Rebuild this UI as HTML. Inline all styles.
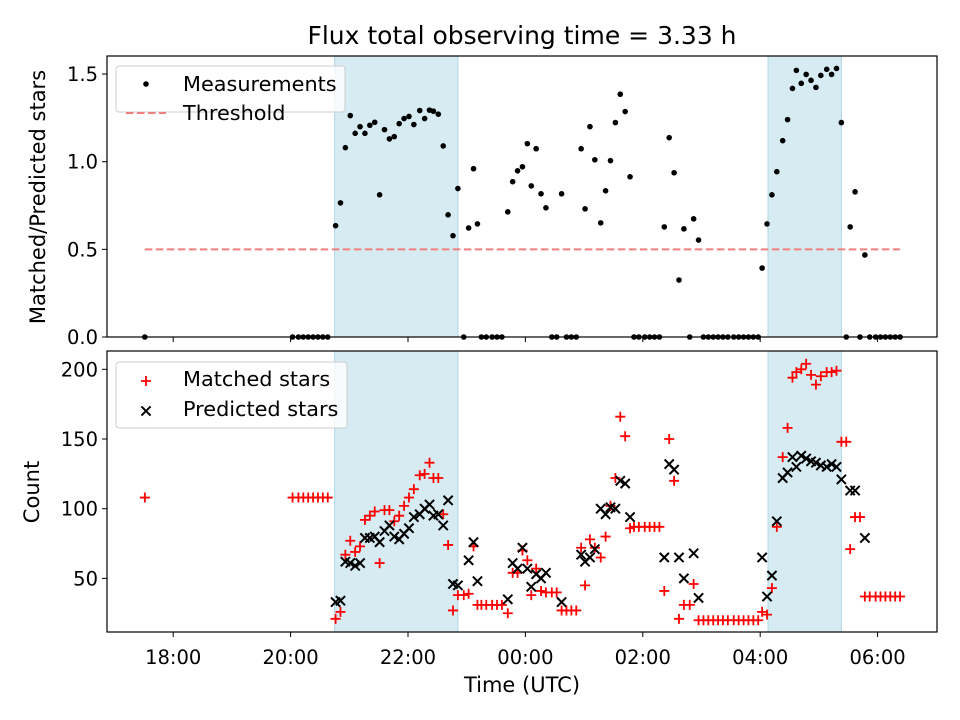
<!DOCTYPE html>
<html><head><meta charset="utf-8"><style>
html,body{margin:0;padding:0;background:#fff;}
svg{display:block;font-family:"DejaVu Sans","Liberation Sans",sans-serif;}
</style></head><body>
<svg id="fig" width="960" height="720" viewBox="0 0 960 720" xmlns="http://www.w3.org/2000/svg">
<rect width="960" height="720" fill="#fff"/>
<text x="522" y="44" font-size="25" text-anchor="middle" fill="#000">Flux total observing time = 3.33 h</text>
<g id="topPanel"></g>
<g id="botPanel"></g>
<text x="0" y="0" font-size="21" text-anchor="middle" transform="translate(45,197) rotate(-90)" fill="#000">Matched/Predicted stars</text>
<text x="0" y="0" font-size="21" text-anchor="middle" transform="translate(39,492) rotate(-90)" fill="#000">Count</text>
<text x="522" y="692" font-size="21" text-anchor="middle" fill="#000">Time (UTC)</text>
<g>
<rect x="116" y="66" width="229" height="46" rx="3" fill="#fff" fill-opacity="0.8" stroke="#ccc" stroke-width="1"/>
<circle cx="146" cy="84" r="2.8" fill="#000"/>
<text x="183" y="91" font-size="20.8" fill="#000">Measurements</text>
<line x1="126" x2="166" y1="113" y2="113" stroke="#f08080" stroke-width="2" stroke-dasharray="7.5,3.5"/>
<text x="183" y="120" font-size="20.8" fill="#000">Threshold</text>
</g>
<g>
<rect x="116" y="362" width="231" height="66" rx="3" fill="#fff" fill-opacity="0.8" stroke="#ccc" stroke-width="1"/>
<path d="M141,381H151M146,376V386" stroke="#ff0000" stroke-width="1.8"/>
<text x="183" y="386" font-size="20.8" fill="#000">Matched stars</text>
<path d="M141.4,406.4L150.6,415.6M141.4,415.6L150.6,406.4" stroke="#000" stroke-width="2"/>
<text x="183" y="416" font-size="20.8" fill="#000">Predicted stars</text>
</g>
</svg>
<script>
// minutes since 18:00 UTC
const times = [-29,122,128,133,138,143,148,153,158,166,171,176,181,186,191,196,201,206,211,216,221,226,231,236,241,246,252,257,262,266,271,276,281,286,291,297,302,307,311,315,320,326,331,336,342,347,352,357,362,366,371,376,381,387,392,397,402,407,412,417,421,426,431,437,442,447,452,457,462,467,471,476,482,487,492,497,502,507,512,517,522,528,532,537,542,547,552,557,562,567,573,578,583,588,593,598,602,607,612,617,623,628,633,637,642,647,652,657,662,668,673,678,683,688,692,697,702,707,712,718,723,728,733,738,743];
const ratio = [0,0,0,0,0,0,0,0,0,0.635,0.765,1.08,1.263,1.162,1.20,1.162,1.208,1.225,0.811,1.183,1.13,1.143,1.217,1.246,1.258,1.212,1.292,1.246,1.294,1.288,1.271,1.09,0.697,0.578,0.847,0,0.622,0.96,0.645,0,0,0,0,0,0.714,0.886,0.948,0.971,1.103,0.862,1.074,0.817,0.737,0,0,0.817,0,0,0,1.074,0.731,1.2,1.011,0.651,0.834,1.006,1.223,1.385,1.286,0.914,0,0,0,0,0,0,0.628,1.137,0.937,0.325,0.617,0,0.674,0.553,0,0,0,0,0,0,0,0,0,0,0,0,0.393,0.645,0.811,0.943,1.12,1.24,1.418,1.521,1.447,1.498,1.464,1.424,1.492,1.527,1.498,1.532,1.223,0,0.628,0.828,0,0.468,0,0,0,0,0,0,0];
const matched = [108,108,108,108,108,108,108,108,108,21,26,67,77,69,73,92,95,98,61,99,99,91,95,102,108,114,124,125,133,122,122,96,74,27,38,38,39,73,31,31,31,31,31,31,25,54,54,70,63,38,57,41,40,40,40,27,27,27,27,72,45,78,72,65,80,102,122,166,152,86,87,87,87,87,87,87,41,150,120,21,31,31,46,20,20,20,20,20,20,20,20,20,20,20,20,20,26,24,43,87,137,158,194,198,200,204,196,189,195,198,198,199,148,148,71,94,94,37,37,37,37,37,37,37,37];
const predicted = [null,null,null,null,null,null,null,null,null,33,34,62,61,59,61,79,79,80,76,84,88,80,78,82,86,94,96,100,103,95,96,88,106,46,45,null,63,76,48,null,null,null,null,null,35,61,57,72,57,44,53,50,54,null,null,33,null,null,null,67,62,65,71,100,96,101,100,120,118,94,null,null,null,null,null,null,65,132,128,65,50,null,68,36,null,null,null,null,null,null,null,null,null,null,null,null,65,37,52,91,122,126,137,130,138,136,134,133,131,130,132,130,121,null,113,113,null,79,null,null,null,null,null,null,null];
const threshold = 0.5;
const shadeSpans = [[165,291],[608,683]];
const xTickLabels = ["18:00","20:00","22:00","00:00","02:00","04:00","06:00"];
const xTickMinutes = [0,120,240,360,480,600,720];
const topTicks = [0.0,0.5,1.0,1.5];
const botTicks = [50,100,150,200];

const NS="http://www.w3.org/2000/svg";
const L=107,R=937;
const X=m=>173.2+m*0.9783;
const T0=56,T1=337, yT=v=>337-v*175.3;
const B0=351,B1=632, yB=v=>369.3-(v-200)*1.394;
function mk(tag,attrs,parent){const e=document.createElementNS(NS,tag);for(const k in attrs)e.setAttribute(k,attrs[k]);parent.appendChild(e);return e;}
const topG=document.getElementById('topPanel'), botG=document.getElementById('botPanel');

function panel(g,y0,y1){
  shadeSpans.forEach(s=>{
    const r=mk('rect',{x:X(s[0]),y:y0,width:X(s[1])-X(s[0]),height:y1-y0,fill:'#add8e6','fill-opacity':0.5,stroke:'#add8e6','stroke-width':1},g);
    
    
  });
}
panel(topG,T0,T1); panel(botG,B0,B1);

const th=mk('line',{x1:X(times[0]),x2:X(times[times.length-1]),y1:yT(threshold),y2:yT(threshold),stroke:'#f08080','stroke-width':2,'stroke-dasharray':'7.5,3.5'},topG);



times.forEach((t,i)=>{
  const c=mk('circle',{cx:X(t),cy:yT(ratio[i]),r:2.8,fill:'#000'},topG);
  
  
});

times.forEach((t,i)=>{
  const x=X(t),y=yB(matched[i]),s=5;
  const p=mk('path',{d:`M${x-s},${y}H${x+s}M${x},${y-s}V${y+s}`,stroke:'#ff0000','stroke-width':1.8,fill:'none'},botG);
  
  
});
times.forEach((t,i)=>{
  if(predicted[i]===null)return;
  const x=X(t),y=yB(predicted[i]),s=4.6;
  const p=mk('path',{d:`M${x-s},${y-s}L${x+s},${y+s}M${x-s},${y+s}L${x+s},${y-s}`,stroke:'#000','stroke-width':2,fill:'none'},botG);
  
  
});

function frame(g,y0,y1,name){
  const f=mk('rect',{x:L,y:y0,width:R-L,height:y1-y0,fill:'none',stroke:'#000','stroke-width':1.2},g);
  
  
}
frame(topG,T0,T1,'top-axes-frame'); frame(botG,B0,B1,'bottom-axes-frame');

xTickMinutes.forEach((m,i)=>{
  const x=X(m);
  mk('line',{x1:x,x2:x,y1:T1,y2:T1+5,stroke:'#000','stroke-width':1},topG);
  mk('line',{x1:x,x2:x,y1:B1,y2:B1+5,stroke:'#000','stroke-width':1},botG);
  const tx=mk('text',{x:x,y:B1+32,'font-size':19.5,'text-anchor':'middle',fill:'#000'},botG);
  tx.textContent=xTickLabels[i];
  
  
});
topTicks.forEach(v=>{
  const y=yT(v);
  mk('line',{x1:L-5,x2:L,y1:y,y2:y,stroke:'#000','stroke-width':1},topG);
  const tx=mk('text',{x:L-9,y:y+7,'font-size':19.5,'text-anchor':'end',fill:'#000'},topG);
  tx.textContent=v.toFixed(1);
  
  
});
botTicks.forEach(v=>{
  const y=yB(v);
  mk('line',{x1:L-5,x2:L,y1:y,y2:y,stroke:'#000','stroke-width':1},botG);
  const tx=mk('text',{x:L-9,y:y+7,'font-size':19.5,'text-anchor':'end',fill:'#000'},botG);
  tx.textContent=String(v);
  
  
});
</script>
</body></html>
